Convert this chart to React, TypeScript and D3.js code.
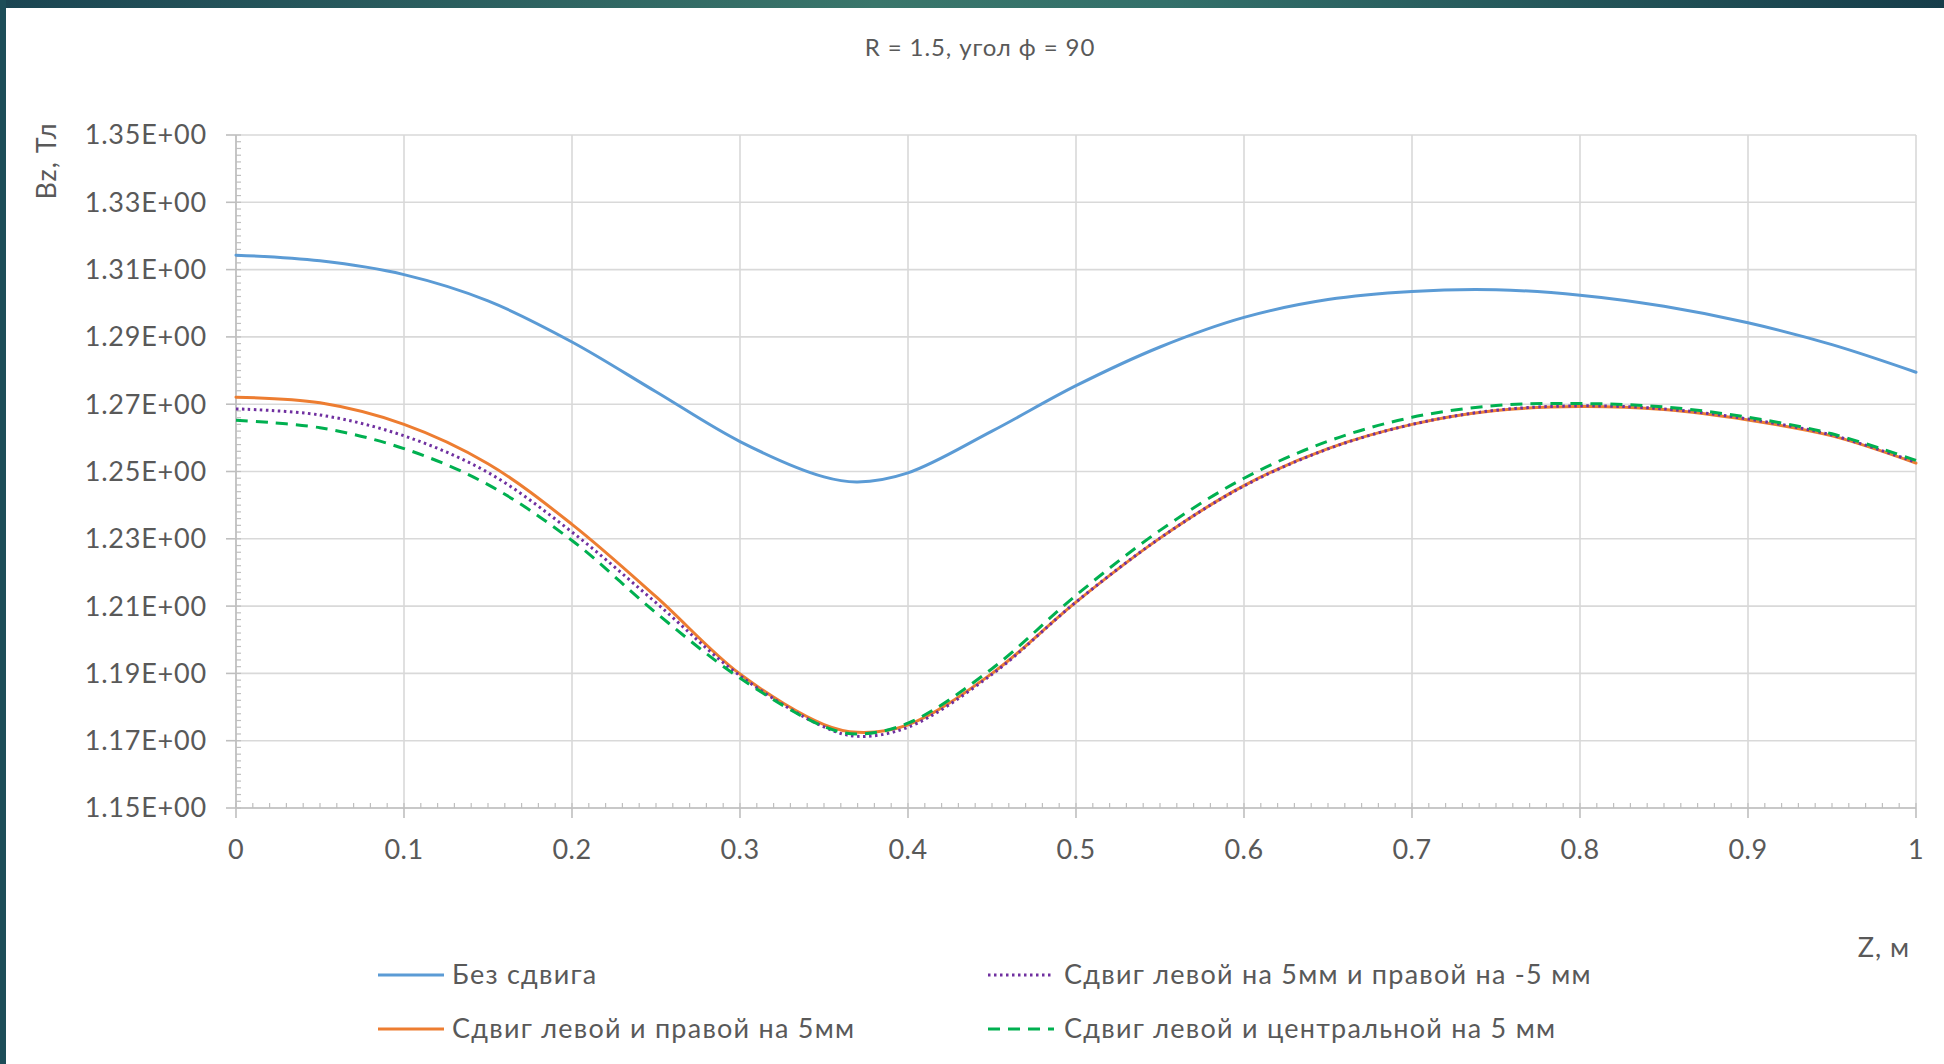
import React from "react";
import * as d3 from "d3";

const zValues = [0, 0.05, 0.1, 0.15, 0.2, 0.25, 0.3, 0.35, 0.37, 0.4, 0.45, 0.5, 0.55, 0.6, 0.65, 0.7, 0.75, 0.8, 0.85, 0.9, 0.95, 1.0];

const noShift = [1.3143, 1.3126, 1.3085, 1.3007, 1.2885, 1.2737, 1.2589, 1.2484, 1.2469, 1.2496, 1.2620, 1.2755, 1.2870, 1.2958, 1.3011, 1.3035, 1.304, 1.3024, 1.2991, 1.2942, 1.2877, 1.2795];
const shiftLeftRight = [1.2721, 1.2704, 1.2640, 1.2523, 1.2343, 1.2128, 1.1898, 1.1748, 1.1725, 1.1747, 1.1900, 1.2112, 1.2302, 1.2458, 1.2568, 1.2640, 1.2681, 1.2693, 1.2684, 1.2653, 1.2606, 1.2525];
const shiftOpposite = [1.2686, 1.2668, 1.2606, 1.2497, 1.232, 1.211, 1.1893, 1.1741, 1.1713, 1.174, 1.1897, 1.2112, 1.2302, 1.2457, 1.2567, 1.264, 1.2682, 1.2695, 1.2686, 1.2656, 1.2608, 1.2527];
const shiftLeftCenter = [1.2652, 1.2630, 1.2568, 1.2461, 1.2295, 1.2080, 1.1886, 1.1742, 1.172, 1.1752, 1.1914, 1.2132, 1.2325, 1.2480, 1.2590, 1.2661, 1.2696, 1.2702, 1.2692, 1.2661, 1.2612, 1.2533];

const seriesNames = [
  "Без сдвига",
  "Сдвиг левой и правой на 5мм",
  "Сдвиг левой на 5мм и правой на -5 мм",
  "Сдвиг левой и центральной на 5 мм",
];

const yTicks = [1.15, 1.17, 1.19, 1.21, 1.23, 1.25, 1.27, 1.29, 1.31, 1.33, 1.35];
const xTicks = [0, 0.1, 0.2, 0.3, 0.4, 0.5, 0.6, 0.7, 0.8, 0.9, 1];

const title = "R = 1.5, угол ф = 90";
const yTitle = "Bz, Тл";
const xTitle = "Z, м";

const W = 1944;
const H = 1064;
const FONT = "Lato, Carlito, 'Open Sans', sans-serif";
const TXT = "#595959";

export default function App() {
  const x = d3.scaleLinear().domain([0, 1]).range([236, 1916]);
  const y = d3.scaleLinear().domain([1.15, 1.35]).range([808, 135]);

  const series = [
    { name: seriesNames[0], values: noShift, color: "#5b9bd5", dash: null as string | null, cap: "round" },
    { name: seriesNames[1], values: shiftLeftRight, color: "#ed7d31", dash: null, cap: "round" },
    { name: seriesNames[2], values: shiftOpposite, color: "#7030a0", dash: "2.5 3.5", cap: "butt" },
    { name: seriesNames[3], values: shiftLeftCenter, color: "#00b050", dash: "12 8", cap: "butt" },
  ];

  const line = d3
    .line<number>()
    .x((_, i) => x(zValues[i]))
    .y((v) => y(v))
    .curve(d3.curveCatmullRom.alpha(0.5));

  const minorY = d3.range(0, 101).map((i) => 1.15 + i * 0.002);
  const minorX = d3.range(0, 101).map((i) => i * 0.01);

  const legendPos = [
    { lx: 378, tx: 452, cy: 975, s: 0 },
    { lx: 378, tx: 452, cy: 1029, s: 1 },
    { lx: 988, tx: 1064, cy: 975, s: 2 },
    { lx: 988, tx: 1064, cy: 1029, s: 3 },
  ];

  return (
    <svg
      width={W}
      height={H}
      style={{ position: "absolute", left: 0, top: 0, display: "block" }}
      fontFamily={FONT}
    >
      <defs>
        <linearGradient id="topbar" x1="0" x2="1" y1="0" y2="0">
          <stop offset="0" stopColor="#1b4552" />
          <stop offset="0.45" stopColor="#3a766b" />
          <stop offset="0.6" stopColor="#33706a" />
          <stop offset="1" stopColor="#163d4a" />
        </linearGradient>
      </defs>
      <rect x={0} y={0} width={W} height={H} fill="#ffffff" />
      <rect x={0} y={0} width={W} height={8} fill="url(#topbar)" />
      <rect x={0} y={0} width={6} height={H} fill="#1d4d58" />

      <text x={980} y={56} textAnchor="middle" fontSize={24} letterSpacing={0.9} fill={TXT}>
        {title}
      </text>

      {/* gridlines */}
      {yTicks.map((t) => (
        <line key={"gy" + t} x1={x(0)} x2={x(1)} y1={y(t)} y2={y(t)} stroke="#d9d9d9" strokeWidth={1.6} />
      ))}
      {xTicks.map((t) => (
        <line key={"gx" + t} x1={x(t)} x2={x(t)} y1={y(1.35)} y2={y(1.15)} stroke="#d9d9d9" strokeWidth={1.6} />
      ))}

      {/* axes */}
      <line x1={x(0)} x2={x(0)} y1={y(1.35)} y2={y(1.15)} stroke="#bfbfbf" strokeWidth={1.6} />
      <line x1={x(0)} x2={x(1)} y1={y(1.15)} y2={y(1.15)} stroke="#bfbfbf" strokeWidth={1.6} />
      {minorY.map((t, i) => (
        <line key={"my" + i} x1={x(0)} x2={x(0) + 5} y1={y(t)} y2={y(t)} stroke="#bfbfbf" strokeWidth={1.2} />
      ))}
      {minorX.map((t, i) => (
        <line key={"mx" + i} x1={x(t)} x2={x(t)} y1={y(1.15)} y2={y(1.15) - 5} stroke="#bfbfbf" strokeWidth={1.2} />
      ))}
      {yTicks.map((t) => (
        <line key={"ty" + t} x1={x(0) - 10} x2={x(0)} y1={y(t)} y2={y(t)} stroke="#bfbfbf" strokeWidth={1.6} />
      ))}
      {xTicks.map((t) => (
        <line key={"tx" + t} x1={x(t)} x2={x(t)} y1={y(1.15)} y2={y(1.15) + 10} stroke="#bfbfbf" strokeWidth={1.6} />
      ))}

      {/* tick labels */}
      {yTicks.map((t) => (
        <text key={"ly" + t} x={207} y={y(t)} dy="0.35em" textAnchor="end" fontSize={27} letterSpacing={0.8} fill={TXT}>
          {t.toFixed(2) + "E+00"}
        </text>
      ))}
      {xTicks.map((t) => (
        <text key={"lx" + t} x={x(t)} y={859} textAnchor="middle" fontSize={27} letterSpacing={0.5} fill={TXT}>
          {String(t)}
        </text>
      ))}

      <text transform="translate(56,161) rotate(-90)" textAnchor="middle" fontSize={27} letterSpacing={1} fill={TXT}>
        {yTitle}
      </text>
      <text x={1910} y={957} textAnchor="end" fontSize={27} letterSpacing={1} fill={TXT}>
        {xTitle}
      </text>

      {/* series */}
      {series.map((s, i) => (
        <path
          key={"s" + i}
          d={line(s.values) || ""}
          fill="none"
          stroke={s.color}
          strokeWidth={3}
          strokeDasharray={s.dash || undefined}
          strokeLinecap={s.cap as any}
        />
      ))}

      {/* legend */}
      {legendPos.map((p) => {
        const s = series[p.s];
        return (
          <g key={"lg" + p.s}>
            <line
              x1={p.lx}
              x2={p.lx + 66}
              y1={p.cy}
              y2={p.cy}
              stroke={s.color}
              strokeWidth={3}
              strokeDasharray={s.dash || undefined}
            />
            <text x={p.tx} y={p.cy} dy="0.35em" fontSize={27} letterSpacing={1.25} fill={TXT}>
              {s.name}
            </text>
          </g>
        );
      })}
    </svg>
  );
}
